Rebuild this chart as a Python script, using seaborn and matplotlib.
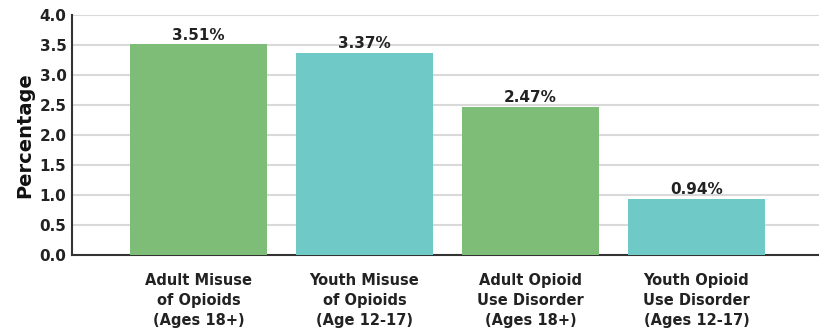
import matplotlib
matplotlib.use("Agg")
import matplotlib.pyplot as plt
import seaborn as sns
import pandas as pd

categories = ["Adult Misuse\nof Opioids\n(Ages 18+)",
              "Youth Misuse\nof Opioids\n(Age 12-17)",
              "Adult Opioid\nUse Disorder\n(Ages 18+)",
              "Youth Opioid\nUse Disorder\n(Ages 12-17)"]
values = [3.51, 3.37, 2.47, 0.94]
labels = ["3.51%", "3.37%", "2.47%", "0.94%"]
colors = ["#7dbd77", "#6ec9c7", "#7dbd77", "#6ec9c7"]

sns.set_theme(style="white")
plt.rcParams['font.family'] = ['DejaVu Sans']

df = pd.DataFrame({"cat": categories, "val": values})
fig = plt.figure(figsize=(8.2, 3.28), dpi=100)
ax = fig.add_axes([0.0878, 0.2226, 0.9122, 0.7317])
sns.barplot(data=df, x="cat", y="val", hue="cat", palette=colors, legend=False,
            width=0.825, saturation=1, ax=ax, zorder=3, linewidth=0)
ax.set_ylim(0, 4.0)
ax.set_xlim(-0.762, 3.744)
ax.set_yticks([0, 0.5, 1.0, 1.5, 2.0, 2.5, 3.0, 3.5, 4.0])
ax.set_yticklabels([f"{v:.1f}" for v in ax.get_yticks()], fontsize=11, fontweight="bold", color="#222222")
ax.yaxis.grid(True, color="#d9d9d9", linewidth=1.5, zorder=0)
ax.set_axisbelow(True)
for s in ["top", "right"]:
    ax.spines[s].set_visible(False)
ax.spines["left"].set_color("#333333")
ax.spines["bottom"].set_color("#333333")
ax.spines["left"].set_linewidth(1.5)
ax.spines["bottom"].set_linewidth(1.5)
ax.tick_params(axis="x", length=0, pad=13)
ax.tick_params(axis="y", length=0, pad=4)
ax.set_xticks(range(len(categories)))
ax.set_xticklabels(categories, fontsize=10.5, fontweight="bold", color="#222222", linespacing=1.42)
ax.set_xlabel("")
ax.set_ylabel("Percentage", fontsize=14, fontweight="bold", color="#111111", labelpad=4)
for i, (v, t) in enumerate(zip(values, labels)):
    ax.text(i, v + 0.03, t, ha="center", va="bottom", fontsize=11, fontweight="bold", color="#222222")
fig.savefig("out.png", dpi=100)
